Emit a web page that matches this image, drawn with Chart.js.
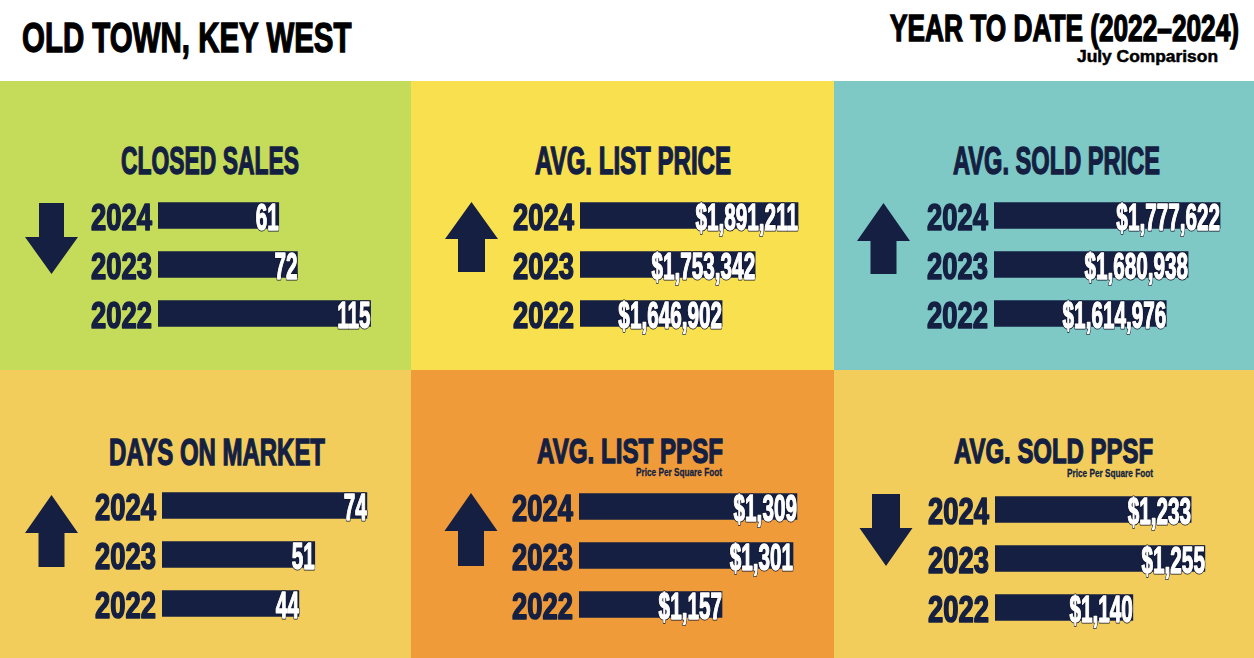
<!DOCTYPE html>
<html>
<head>
<meta charset="utf-8">
<script src="https://cdn.jsdelivr.net/npm/chart.js@4.4.1/dist/chart.umd.min.js"></script>
<style>
  html, body { margin: 0; padding: 0; }
  body { width: 1254px; height: 658px; position: relative; overflow: hidden; background: #ffffff; font-family: "Liberation Sans", Arial, sans-serif; }
  .panel { position: absolute; }
  .txt { position: absolute; white-space: nowrap; font-weight: 700; line-height: 1; transform-origin: 0 0; }
  .chartbox { position: absolute; }
  svg.arrow { position: absolute; left: 0; top: 0; }
</style>
</head>
<body>
<script>
// ---------------- DATA ----------------
const years = ['2024', '2023', '2022'];
const closedSales = [61, 72, 115];
const avgListPrice = [1891211, 1753342, 1646902];
const avgSoldPrice = [1777622, 1680938, 1614976];
const daysOnMarket = [74, 51, 44];
const avgListPpsf = [1309, 1301, 1157];
const avgSoldPpsf = [1233, 1255, 1140];

const panelTitles = ['CLOSED SALES', 'AVG. LIST PRICE', 'AVG. SOLD PRICE', 'DAYS ON MARKET', 'AVG. LIST PPSF', 'AVG. SOLD PPSF'];
const pageTitle = 'OLD TOWN, KEY WEST';
const periodTitle = 'YEAR TO DATE (2022–2024)';
const periodSubtitle = 'July Comparison';
const ppsfNote = 'Price Per Square Foot';

// ---------------- STYLE ----------------
const NAVY = '#141f42';
const panels = [
  { x: 0,   y: 81,  w: 411, h: 289, bg: '#c5dc5a' },
  { x: 411, y: 81,  w: 423, h: 289, bg: '#f9e04f' },
  { x: 834, y: 81,  w: 420, h: 289, bg: '#7ec8c6' },
  { x: 0,   y: 370, w: 411, h: 288, bg: '#f2cd5c' },
  { x: 411, y: 370, w: 423, h: 288, bg: '#ef9b3a' },
  { x: 834, y: 370, w: 420, h: 288, bg: '#f2cd5c' }
];
panels.forEach(p => {
  const d = document.createElement('div');
  d.className = 'panel';
  Object.assign(d.style, { left: p.x + 'px', top: p.y + 'px', width: p.w + 'px', height: p.h + 'px', background: p.bg });
  document.body.appendChild(d);
});

// text placed by cap-top / cap-height / target width (condensed via scaleX)
const mctx = document.createElement('canvas').getContext('2d');
function placeText(text, left, capTop, capH, width, color, stroke) {
  const fs = capH / 0.729;
  mctx.font = '700 ' + fs + 'px "Liberation Sans"';
  const w = mctx.measureText(text).width;
  const s = width / w;
  const d = document.createElement('div');
  d.className = 'txt';
  d.textContent = text;
  Object.assign(d.style, {
    left: left + 'px', top: (capTop - 0.1175 * fs) + 'px', fontSize: fs + 'px', color: color,
    transform: 'scaleX(' + s + ')'
  });
  if (stroke) d.style.webkitTextStroke = stroke + 'px ' + color;
  document.body.appendChild(d);
}

placeText(pageTitle, 22, 22, 31, 330, '#000000', 1.4);
placeText(periodTitle, 890, 14, 27, 349, '#000000', 1.4);
placeText(periodSubtitle, 1077, 50, 12, 141, '#000000', 0.5);

const titlePos = [
  [121, 147, 28, 178], [535, 147, 28, 196], [953, 147, 28, 207],
  [109, 438, 27, 216], [537, 438, 26, 186], [954, 438, 26, 199]
];
panelTitles.forEach((t, i) => {
  const p = titlePos[i];
  placeText(t, p[0], p[1], p[2], p[3], NAVY, 1.4);
});
placeText(ppsfNote, 636, 468, 8, 86, NAVY, 0.3);
placeText(ppsfNote, 1067, 469, 8, 86, NAVY, 0.3);

// arrows (decoration)
const svgNS = 'http://www.w3.org/2000/svg';
const svg = document.createElementNS(svgNS, 'svg');
svg.setAttribute('class', 'arrow');
svg.setAttribute('width', '1254');
svg.setAttribute('height', '658');
function arrowUp(tipX, tipY, headY, halfHead, halfShaft, bottom) {
  return `M${tipX},${tipY} L${tipX + halfHead},${headY} L${tipX + halfShaft},${headY} L${tipX + halfShaft},${bottom} L${tipX - halfShaft},${bottom} L${tipX - halfShaft},${headY} L${tipX - halfHead},${headY} Z`;
}
function arrowDown(tipX, tipY, headY, halfHead, halfShaft, top) {
  return `M${tipX},${tipY} L${tipX + halfHead},${headY} L${tipX + halfShaft},${headY} L${tipX + halfShaft},${top} L${tipX - halfShaft},${top} L${tipX - halfShaft},${headY} L${tipX - halfHead},${headY} Z`;
}
const arrowPaths = [
  arrowDown(51.5, 274, 237, 26.5, 12.5, 203),
  arrowUp(471.5, 202, 239, 26.5, 13.5, 272),
  arrowUp(883.5, 203, 241, 26.5, 13, 274),
  arrowUp(51.5, 495, 533, 26.5, 13, 567),
  arrowUp(471, 493, 531, 26.5, 13, 566),
  arrowDown(886, 566, 528, 26.5, 14, 494)
];
arrowPaths.forEach(dp => {
  const p = document.createElementNS(svgNS, 'path');
  p.setAttribute('d', dp);
  p.setAttribute('fill', NAVY);
  svg.appendChild(p);
});
document.body.appendChild(svg);

// ---------------- CHARTS ----------------
const fmtPlain = v => String(v);
const fmtMoney = v => '$' + v.toLocaleString('en-US');

const chartSpecs = [
  { data: closedSales,  fmt: fmtPlain, barX: 158, areaTop: 190.5, min: -10,     max: 137 },
  { data: avgListPrice, fmt: fmtMoney, barX: 580, areaTop: 190.5, min: 1190000, max: 1994000 },
  { data: avgSoldPrice, fmt: fmtMoney, barX: 994, areaTop: 191,   min: 1094000, max: 1850000 },
  { data: daysOnMarket, fmt: fmtPlain, barX: 162, areaTop: 481,   min: -16.4,   max: 93.9 },
  { data: avgListPpsf,  fmt: fmtMoney, barX: 579, areaTop: 482,   min: 867,     max: 1374 },
  { data: avgSoldPpsf,  fmt: fmtMoney, barX: 995, areaTop: 485,   min: 920,     max: 1319 }
];

const PADL = 100, PADT = 6, AREA_W = 250, AREA_H = 147;

function drawCondensed(ctx, text, x, y, size, scaleX, align, fill, strokeCol, lw, emb) {
  ctx.save();
  ctx.translate(x, y);
  ctx.scale(scaleX, 1);
  ctx.font = '700 ' + size + 'px "Liberation Sans"';
  ctx.textAlign = align;
  ctx.textBaseline = 'alphabetic';
  ctx.lineJoin = 'round';
  if (strokeCol) {
    ctx.strokeStyle = strokeCol;
    ctx.lineWidth = lw;
    ctx.strokeText(text, 0, 0);
  }
  ctx.fillStyle = fill;
  ctx.fillText(text, 0, 0);
  if (emb) {
    ctx.strokeStyle = fill;
    ctx.lineWidth = emb;
    ctx.strokeText(text, 0, 0);
  }
  ctx.restore();
}

const labelPlugin = {
  id: 'barLabels',
  afterDatasetsDraw(chart, args, opts) {
    const ctx = chart.ctx;
    const meta = chart.getDatasetMeta(0);
    const area = chart.chartArea;
    const ds = chart.data.datasets[0];
    meta.data.forEach((bar, i) => {
      // year label on the category axis side
      drawCondensed(ctx, chart.data.labels[i], area.left - 6, bar.y + 14.5, 37, 0.74, 'right', NAVY, NAVY, 1.6, 0);
      // value label at the end of the bar
      drawCondensed(ctx, opts.fmt(ds.data[i]), bar.x, bar.y + 14.5, 37, 0.56, 'right', '#ffffff', '#0b1026', 3, 1.4);
    });
  }
};

chartSpecs.forEach(spec => {
  const box = document.createElement('div');
  box.className = 'chartbox';
  const cw = PADL + AREA_W + 4, ch = PADT * 2 + AREA_H;
  Object.assign(box.style, { left: (spec.barX - PADL) + 'px', top: (spec.areaTop - PADT) + 'px', width: cw + 'px', height: ch + 'px' });
  const cv = document.createElement('canvas');
  cv.width = cw; cv.height = ch;
  box.appendChild(cv);
  document.body.appendChild(box);
  new Chart(cv, {
    type: 'bar',
    data: {
      labels: years,
      datasets: [{
        data: spec.data,
        base: spec.min,
        backgroundColor: NAVY,
        borderWidth: 0,
        barThickness: 26
      }]
    },
    options: {
      indexAxis: 'y',
      responsive: false,
      animation: false,
      layout: { padding: { left: PADL, top: PADT, bottom: PADT, right: 4 } },
      plugins: {
        legend: { display: false },
        tooltip: { enabled: false },
        barLabels: { fmt: spec.fmt }
      },
      scales: {
        x: { type: 'linear', min: spec.min, max: spec.max, display: false },
        y: { type: 'category', display: false, offset: true }
      }
    },
    plugins: [labelPlugin]
  });
});
</script>
</body>
</html>
